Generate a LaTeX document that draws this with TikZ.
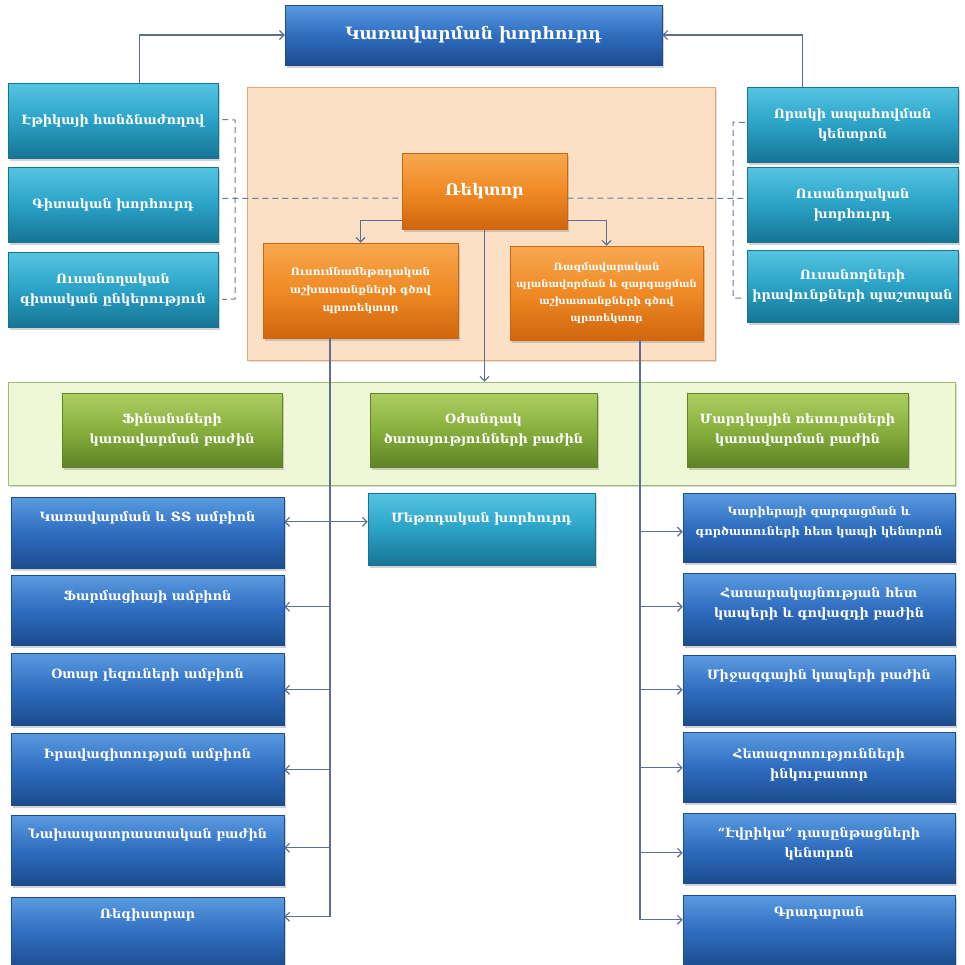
\documentclass[tikz,border=0pt]{standalone}
\usepackage{fontspec}
\setmainfont{DejaVu Serif}
\usetikzlibrary{arrows.meta,shadows,calc}

\definecolor{blueT}{HTML}{5A9BE0}
\definecolor{blueM}{HTML}{2F6DC0}
\definecolor{blueB}{HTML}{1C4C8E}
\definecolor{tealT}{HTML}{55C4E2}
\definecolor{tealM}{HTML}{2AA2C6}
\definecolor{tealB}{HTML}{167494}
\definecolor{orT}{HTML}{F8A850}
\definecolor{orM}{HTML}{EF8A24}
\definecolor{orB}{HTML}{D0650E}
\definecolor{grT}{HTML}{ADCE62}
\definecolor{grM}{HTML}{88AF3D}
\definecolor{grB}{HTML}{5E8426}
\definecolor{peach}{HTML}{FCE0C6}
\definecolor{peachEdge}{HTML}{DDA87C}
\definecolor{lime}{HTML}{EEF7D6}
\definecolor{limeEdge}{HTML}{A3BB70}
\definecolor{wire}{HTML}{5C6F8E}
\definecolor{dashc}{HTML}{6A7C98}

\begin{document}
\begin{tikzpicture}[x=1pt,y=-1pt,
  card/.style={rectangle, inner sep=0pt, line width=0.5pt,
    drop shadow={shadow xshift=1.5pt, shadow yshift=-2.5pt, opacity=0.35},
    text=white, font=\bfseries\fontsize{12.8}{20}\selectfont, align=center},
  bluebox/.style={card, top color=blueT, bottom color=blueB, middle color=blueM, draw=blueB},
  tealbox/.style={card, top color=tealT, bottom color=tealB, middle color=tealM, draw=tealB},
  orangebox/.style={card, top color=orT, bottom color=orB, middle color=orM, draw=orB},
  greenbox/.style={card, top color=grT, bottom color=grB, middle color=grM, draw=grB},
  label/.style={text=white, font=\bfseries\fontsize{12.8}{20}\selectfont, align=center, inner sep=0pt, anchor=north},
  small/.style={font=\bfseries\fontsize{10.5}{18}\selectfont},
  wirel/.style={draw=wire, line width=1.1pt},
  conn/.style={wirel, -{Straight Barb[length=4.5pt,width=9pt]}},
  conn2/.style={wirel, {Straight Barb[length=4.5pt,width=9pt]}-{Straight Barb[length=4.5pt,width=9pt]}},
  dashl/.style={draw=dashc, line width=1pt, dash pattern=on 6pt off 4pt},
]
\useasboundingbox (0,0) rectangle (965,964);
\fill[white] (0,0) rectangle (965,964);

% background panels
\node[rectangle, inner sep=0pt, fill=peach, draw=peachEdge, line width=0.8pt,
  minimum width=468pt, minimum height=273pt,
  drop shadow={shadow xshift=1.5pt, shadow yshift=-2pt, opacity=0.25}] (admin) at (481,223.5) {};
\node[rectangle, inner sep=0pt, fill=lime, draw=limeEdge, line width=0.8pt,
  minimum width=947pt, minimum height=103pt,
  drop shadow={shadow xshift=1.5pt, shadow yshift=-2pt, opacity=0.3}] (services) at (481.5,433.5) {};

% governing board
\node[bluebox, minimum width=377pt, minimum height=60pt,
  font=\bfseries\fontsize{17}{20}\selectfont] (board) at (473.5,35) {Կառավարման խորհուրդ};

% left advisory column
\node[tealbox, minimum width=210pt, minimum height=75pt] (ethics) at (113,120.5) {Էթիկայի հանձնաժողով};
\node[tealbox, minimum width=210pt, minimum height=75pt] (sci) at (113,204.5) {Գիտական խորհուրդ};
\node[tealbox, minimum width=210pt, minimum height=75pt] (stsci) at (113,289.5) {Ուսանողական\\գիտական ընկերություն};

% right advisory column
\node[tealbox, minimum width=211pt, minimum height=75pt] (quality) at (852.5,124.5) {Որակի ապահովման\\կենտրոն};
\node[tealbox, minimum width=211pt, minimum height=75pt] (stcouncil) at (852.5,204.5) {Ուսանողական\\խորհուրդ};
\node[tealbox, minimum width=211pt, minimum height=72pt] (rights) at (852.5,286) {Ուսանողների\\իրավունքների պաշտպան};

% rector and vice-rectors
\node[orangebox, minimum width=165pt, minimum height=76pt, font=\bfseries\fontsize{16}{20}\selectfont] (rector) at (484.5,191) {Ռեկտոր};
\node[orangebox, small, minimum width=195pt, minimum height=95pt] (vpa) at (360.5,290.5)
  {Ուսումնամեթոդական\\աշխատանքների գծով\\պրոռեկտոր};
\node[orangebox, minimum width=193pt, minimum height=94pt, font=\bfseries\fontsize{10}{17}\selectfont] (vps) at (606.5,293)
  {Ռազմավարական\\պլանավորման և զարգացման\\աշխատանքների գծով\\պրոռեկտոր};

% service departments
\node[greenbox, minimum width=220pt, minimum height=74pt] (fin) at (172,430) {Ֆինանսների\\կառավարման բաժին};
\node[greenbox, minimum width=227pt, minimum height=74pt] (aux) at (483.5,430) {Օժանդակ\\ծառայությունների բաժին};
\node[greenbox, minimum width=221pt, minimum height=74pt] (hr) at (797.5,430) {Մարդկային ռեսուրսների\\կառավարման բաժին};

% academic units (left)
\node[bluebox, minimum width=273pt, minimum height=71pt] (ch1) at (147.5,532.5) {};
\node[bluebox, minimum width=273pt, minimum height=70pt] (ch2) at (147.5,610) {};
\node[bluebox, minimum width=273pt, minimum height=72pt] (ch3) at (147.5,689) {};
\node[bluebox, minimum width=273pt, minimum height=72pt] (ch4) at (147.5,769) {};
\node[bluebox, minimum width=273pt, minimum height=70pt] (ch5) at (147.5,850) {};
\node[bluebox, minimum width=273pt, minimum height=72pt] (ch6) at (147.5,933) {};
\node[label] (ch1t) at ($(ch1.north)+(0,15)$) {Կառավարման և ՏՏ ամբիոն};
\node[label] (ch2t) at ($(ch2.north)+(0,16)$) {Ֆարմացիայի ամբիոն};
\node[label] (ch3t) at ($(ch3.north)+(0,16)$) {Օտար լեզուների ամբիոն};
\node[label] (ch4t) at ($(ch4.north)+(0,16)$) {Իրավագիտության ամբիոն};
\node[label] (ch5t) at ($(ch5.north)+(0,13)$) {Նախապատրաստական բաժին};
\node[label] (ch6t) at ($(ch6.north)+(0,12)$) {Ռեգիստրար};

% methodical council
\node[tealbox, minimum width=227pt, minimum height=72pt] (method) at (481.5,529) {};
\node[label] (methodt) at ($(method.north)+(0,20)$) {Մեթոդական խորհուրդ};

% centres and departments (right)
\node[bluebox, minimum width=272pt, minimum height=69pt] (rc1) at (819,527.5) {};
\node[bluebox, minimum width=272pt, minimum height=72pt] (rc2) at (819,609) {};
\node[bluebox, minimum width=272pt, minimum height=70pt] (rc3) at (819,690) {};
\node[bluebox, minimum width=272pt, minimum height=70pt] (rc4) at (819,767) {};
\node[bluebox, minimum width=272pt, minimum height=70pt] (rc5) at (819,848) {};
\node[bluebox, minimum width=272pt, minimum height=72pt] (rc6) at (819,931) {};
\node[label, font=\bfseries\fontsize{11.4}{20}\selectfont] (rc1t) at ($(rc1.north)+(0,14)$) {Կարիերայի զարգացման և\\գործատուների հետ կապի կենտրոն};
\node[label] (rc2t) at ($(rc2.north)+(0,15)$) {Հասարակայնության հետ\\կապերի և գովազդի բաժին};
\node[label] (rc3t) at ($(rc3.north)+(0,15)$) {Միջազգային կապերի բաժին};
\node[label] (rc4t) at ($(rc4.north)+(0,17)$) {Հետազոտությունների\\ինկուբատոր};
\node[label] (rc5t) at ($(rc5.north)+(0,15)$) {“Էվրիկա” դասընթացների\\կենտրոն};
\node[label] (rc6t) at ($(rc6.north)+(0,12)$) {Գրադարան};

% links to the governing board
\draw[conn] ($(ethics.north west)+(132,0)$) |- (board.west);
\draw[conn] ($(quality.north west)+(56,0)$) |- (board.east);

% dashed advisory brackets
\coordinate (lbT) at (235,120);
\coordinate (lbB) at (235,299);
\coordinate (rbT) at (733,122);
\coordinate (rbB) at (733,298);
\draw[dashl] ($(ethics.east)+(4,-1)$) -- (lbT) -- (lbB) -- ($(stsci.east)+(4,10)$);
\draw[dashl] ($(quality.west)+(-2,-2)$) -- (rbT) -- (rbB) -- ($(rights.west)+(-2,12)$);
\draw[dashl] ($(sci.east)+(4,-6)$) -- (rector.west |- 0,198);
\draw[dashl] (rector.east |- 0,198) -- ($(stcouncil.west)+(-2,-6)$);

% rector to vice-rectors and services
\draw[conn] ($(rector.south west)+(0,-9)$) -| (vpa.north);
\draw[conn] ($(rector.south east)+(0,-9)$) -| (vps.north);
\draw[conn] (rector.south) -- (services.north -| rector.south);

% arrow end points on the unit boxes
\coordinate (a1) at ($(ch1.north east)+(0,25)$);
\coordinate (a2) at ($(ch2.north east)+(0,32)$);
\coordinate (a3) at ($(ch3.north east)+(0,37)$);
\coordinate (a4) at ($(ch4.north east)+(0,37)$);
\coordinate (a5) at ($(ch5.north east)+(0,33)$);
\coordinate (a6) at ($(ch6.north east)+(0,20)$);
\coordinate (b1) at ($(rc1.north west)+(0,39)$);
\coordinate (b2) at ($(rc2.north west)+(0,34)$);
\coordinate (b3) at ($(rc3.north west)+(0,35)$);
\coordinate (b4) at ($(rc4.north west)+(0,36)$);
\coordinate (b5) at ($(rc5.north west)+(0,40)$);
\coordinate (b6) at ($(rc6.north west)+(0,25)$);

% vice-rector (academic) spine
\coordinate (spL) at ($(vpa.south)+(-30.5,0)$);
\draw[wirel] (spL) -- (spL |- a6);
\draw[conn2] (a1) -- (a1 -| method.west);
\draw[conn] (spL |- a2) -- (a2);
\draw[conn] (spL |- a3) -- (a3);
\draw[conn] (spL |- a4) -- (a4);
\draw[conn] (spL |- a5) -- (a5);
\draw[conn] (spL |- a6) -- (a6);

% vice-rector (strategy) spine
\coordinate (spR) at ($(vps.south)+(33.5,0)$);
\draw[wirel] (spR) -- (spR |- b6);
\draw[conn] (spR |- b1) -- (b1);
\draw[conn] (spR |- b2) -- (b2);
\draw[conn] (spR |- b3) -- (b3);
\draw[conn] (spR |- b4) -- (b4);
\draw[conn] (spR |- b5) -- (b5);
\draw[conn] (spR |- b6) -- (b6);
\end{tikzpicture}
\end{document}
